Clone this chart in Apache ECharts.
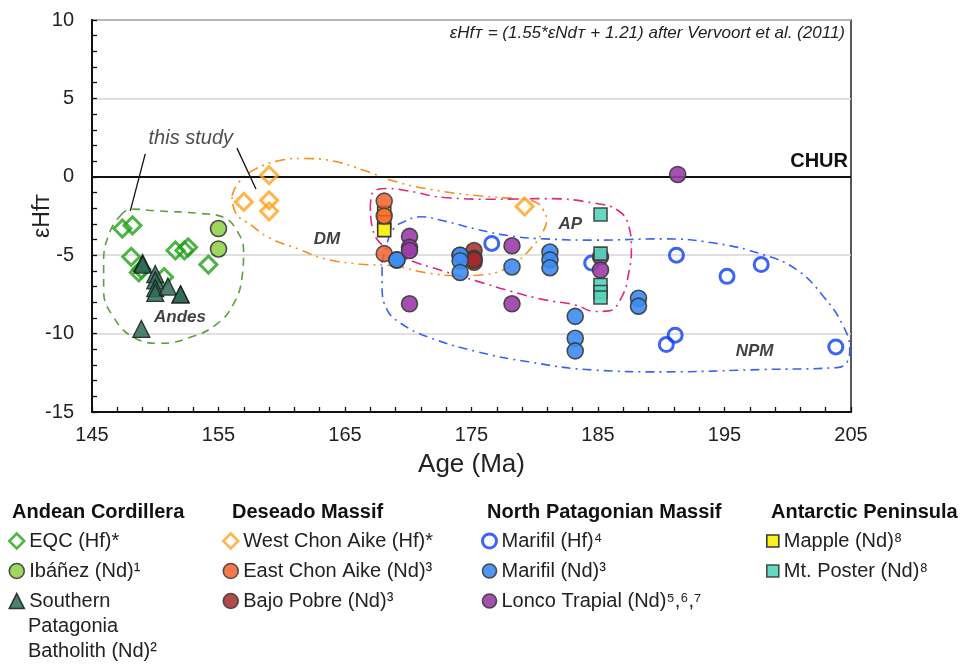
<!DOCTYPE html>
<html><head><meta charset="utf-8">
<script src="https://cdn.jsdelivr.net/npm/echarts@6/dist/echarts.min.js"></script>
<style>html,body{margin:0;padding:0;background:#fff}#c{width:966px;height:665px}</style>
</head><body><div id="c"></div>
<script>
const FONT = '"Liberation Sans", Arial, sans-serif';
// axes
const xMin = 145, xMax = 205, xStep = 10;
const yMin = -15, yMax = 10, yStep = 5;

// data [age Ma, eHf(t)]
const eqcHf = [[147.4,-3.3],[148.2,-3.1],[148.1,-5.1],[148.7,-6.1],[148.9,-5.9],[150.7,-6.4],[151.6,-4.7],[152.3,-4.7],[152.6,-4.5],[154.2,-5.6]];
const ibanezNd = [[155.0,-3.3],[155.0,-4.6]];
const spbNd = [[149.0,-5.5],[149.0,-5.6],[150.0,-6.2],[150.0,-6.6],[150.0,-7.1],[150.0,-7.4],[151.0,-7.0],[152.0,-7.5],[152.0,-7.5],[148.9,-9.7]];
const westChonAikeHf = [[159.0,0.1],[157.0,-1.6],[159.0,-1.5],[159.0,-2.2],[179.2,-1.9]];
const mappleNd = [[168.1,-2.3],[168.1,-2.9],[168.1,-3.4]];
const eastChonAikeNd = [[168.1,-1.55],[168.1,-2.5],[168.1,-4.9]];
const bajoPobreNd = [[175.2,-4.7],[175.2,-5.2],[175.2,-5.45],[175.2,-5.3]];
const marifilHf = [[176.6,-4.25],[184.5,-5.5],[191.2,-5.0],[195.2,-6.35],[197.9,-5.6],[191.1,-10.1],[190.4,-10.7],[203.8,-10.85]];
const marifilNd = [[169.1,-5.3],[169.1,-5.3],[174.1,-5.0],[174.1,-5.0],[174.1,-5.35],[174.1,-6.1],[178.2,-5.75],[181.2,-4.8],[181.2,-5.3],[181.2,-5.8],[183.2,-8.9],[183.2,-10.3],[183.2,-11.1],[188.2,-7.75],[188.2,-8.25]];
const loncoTrapialNd = [[170.1,-3.8],[170.1,-4.5],[170.1,-4.7],[170.1,-8.1],[178.2,-4.4],[178.2,-8.1],[185.2,-5.1],[185.2,-5.95],[191.3,0.15]];
const mtPosterNd = [[185.2,-2.4],[185.2,-4.9],[185.2,-6.9],[185.2,-7.35],[185.2,-7.7]];

// field outlines (data coordinates)
const andesShape = [[147.24,-2.48],[148.03,-2.06],[150.14,-2.17],[153.56,-2.34],[155.4,-2.59],[156.46,-3.44],[156.98,-4.71],[156.86,-6.41],[156.19,-8.11],[154.88,-9.38],[152.77,-10.24],[150.4,-10.62],[148.29,-10.24],[146.71,-8.96],[145.92,-7.26],[145.92,-5.35],[146.45,-3.44],[147.24,-2.48]];
const dmShape = [[156.07,-1.21],[156.59,-0.36],[157.91,0.49],[159.75,1.02],[161.6,1.17],[163.97,1.02],[166.6,0.38],[169.24,-0.36],[172.4,-0.89],[175.56,-1.21],[178.72,-1.42],[180.04,-1.6],[180.67,-2.1],[180.94,-2.75],[180.52,-3.68],[179.73,-4.52],[178.68,-5.37],[177.36,-5.99],[176.01,-6.24],[174.17,-6.31],[171.51,-6.13],[168.87,-5.69],[166.08,-5.56],[163.44,-5.24],[161.33,-4.61],[158.96,-3.87],[157.65,-3.12],[156.33,-2.27],[156.07,-1.21]];
const apShape = [[167.0,-2.08],[167.13,-1.1],[168.33,-0.75],[169.93,-0.89],[172.84,-1.32],[176.82,-1.43],[180.8,-1.39],[184.78,-1.69],[186.64,-2.18],[187.43,-3.14],[187.64,-4.64],[187.43,-6.13],[186.9,-7.63],[185.84,-8.55],[184.78,-8.59],[183.19,-8.17],[180.8,-7.85],[178.15,-7.31],[175.49,-6.67],[172.84,-6.03],[169.66,-5.17],[168.07,-4.43],[167.27,-3.57],[167.0,-2.08]];
const npmShape = [[167.93,-5.48],[168.26,-4.39],[168.84,-3.31],[169.66,-2.87],[170.98,-2.55],[172.84,-2.82],[175.49,-3.36],[178.15,-3.78],[180.8,-3.96],[184.78,-4.04],[190.08,-3.96],[194.06,-4.21],[198.04,-4.96],[200.69,-5.92],[202.82,-7.63],[204.41,-9.55],[204.9,-11.0],[204.7,-11.8],[203.88,-12.17],[198.04,-12.29],[190.08,-12.44],[184.78,-12.33],[179.48,-11.8],[175.49,-11.16],[171.51,-10.2],[169.4,-9.34],[168.33,-8.48],[167.93,-6.99],[167.93,-5.48]];
const leader1 = [[149.21,1.46],[148.03,-2.17]];
const leader2 = [[156.46,1.83],[157.96,-0.78]];
const fieldLabels = [{name:'Andes', value:[151.96,-8.96]},{name:'DM', value:[163.58,-3.97]},{name:'AP', value:[182.81,-3.04]},{name:'NPM', value:[197.38,-11.16]}];
const noteLabel = [{name:'this study', value:[152.81,2.42]}];

const filled = (c, op) => ({color: c, opacity: op || 0.9, borderColor: '#3a3a3a', borderWidth: 1.6});
const hollow = (c) => ({color: 'rgba(255,255,255,0)', borderColor: c, borderWidth: 3});
function sc(name, data, symbol, size, itemStyle) {
  return {type:'scatter', name, data, symbol, symbolSize:size, itemStyle, z:5};
}
function shape(data, color, dash) {
  return {type:'line', data, smooth:0.45, symbol:'none', silent:true, z:2,
    lineStyle:{color, width:1.6, type:dash}};
}

const series = [
  Object.assign(shape(andesShape, '#5aa03c', [8,6]), {markLine:{silent:true, symbol:'none', data:[{yAxis:0}],
    lineStyle:{color:'#111', width:2, type:'solid'},
    label:{show:true, formatter:'CHUR', position:'insideEndTop', distance:[3,5], fontFamily:FONT, fontSize:20, fontWeight:'bold', color:'#111'}}}),
  shape(dmShape, '#f39019', [10,5,2,5,2,5]),
  shape(apShape, '#e0267f', [10,5,2,5]),
  shape(npmShape, '#3a63f0', [9,5,2,5]),
  {type:'line', data:leader1, symbol:'none', silent:true, lineStyle:{color:'#111', width:1.3}, z:3},
  {type:'line', data:leader2, symbol:'none', silent:true, lineStyle:{color:'#111', width:1.3}, z:3},
  sc('EQC (Hf)*', eqcHf, 'diamond', 17, hollow('#23a017')),
  sc('Ibáñez (Nd)¹', ibanezNd, 'circle', 16, filled('#93d34c')),
  sc('Southern Patagonia Batholith (Nd)²', spbNd, 'triangle', 17, {color:'#2b6b55', opacity:0.85, borderColor:'#1a1a1a', borderWidth:1.3}),
  sc('West Chon Aike (Hf)*', westChonAikeHf, 'diamond', 17, hollow('#ffa31a')),
  sc('Mapple (Nd)⁸', mappleNd, 'rect', 13, filled('#f8f21a', 1)),
  sc('East Chon Aike (Nd)³', eastChonAikeNd, 'circle', 16, filled('#f4602e', 0.85)),
  sc('Bajo Pobre (Nd)³', bajoPobreNd, 'circle', 16, filled('#a32a2a', 0.85)),
  sc('Marifil (Hf)⁴', marifilHf, 'circle', 14, hollow('#0b3ef5')),
  sc('Marifil (Nd)³', marifilNd, 'circle', 16, filled('#3c8cf2', 0.9)),
  sc('Lonco Trapial (Nd)⁵,⁶,⁷', loncoTrapialNd, 'circle', 16, filled('#9b3ca8', 0.9)),
  sc('Mt. Poster (Nd)⁸', mtPosterNd, 'rect', 13, filled('#52d6b8', 0.9)),
  {type:'scatter', data:fieldLabels, symbolSize:1, itemStyle:{color:'rgba(0,0,0,0)'}, silent:true, z:6,
    label:{show:true, position:'inside', formatter:'{b}', fontFamily:FONT, fontSize:17, fontWeight:'bold', fontStyle:'italic', color:'#111'}},
  {type:'scatter', data:noteLabel, symbolSize:1, itemStyle:{color:'rgba(0,0,0,0)'}, silent:true, z:6,
    label:{show:true, position:'inside', formatter:'{b}', fontFamily:FONT, fontSize:20, fontStyle:'italic', color:'#222'}}
];

const hol = {borderWidth:2.5};
const fil = {borderWidth:1.6};
const legTxt = {fontFamily:FONT, fontSize:20, color:'#222', lineHeight:20};
const legBase = {orient:'vertical', top:531, padding:0, itemGap:10, selectedMode:false, textStyle:legTxt};
const legends = [
  Object.assign({}, legBase, {left:8, itemWidth:15, itemHeight:15,
    data:[{name:'EQC (Hf)*', itemStyle:hol},{name:'Ibáñez (Nd)¹', itemStyle:fil},{name:'Southern Patagonia Batholith (Nd)²', itemStyle:fil}],
    formatter: n => n === 'Southern Patagonia Batholith (Nd)²' ? 'Southern' : n}),
  Object.assign({}, legBase, {left:222, itemWidth:15, itemHeight:15,
    data:[{name:'West Chon Aike (Hf)*', itemStyle:hol},{name:'East Chon Aike (Nd)³', itemStyle:fil},{name:'Bajo Pobre (Nd)³', itemStyle:fil}]}),
  Object.assign({}, legBase, {left:481, itemWidth:14, itemHeight:14,
    data:[{name:'Marifil (Hf)⁴', itemStyle:{borderWidth:3}},{name:'Marifil (Nd)³', itemStyle:fil},{name:'Lonco Trapial (Nd)⁵,⁶,⁷', itemStyle:fil}]}),
  Object.assign({}, legBase, {left:766, itemWidth:12, itemHeight:12,
    data:[{name:'Mapple (Nd)⁸', itemStyle:fil},{name:'Mt. Poster (Nd)⁸', itemStyle:fil}]})
];
const hdr = {fontFamily:FONT, fontSize:20, fontWeight:'bold', color:'#111', lineHeight:20};
const titles = [
  {text:'εHfᴛ = (1.55*εNdᴛ + 1.21) after Vervoort et al. (2011)', right:121, top:25, padding:0,
    textStyle:{fontFamily:FONT, fontSize:17, fontStyle:'italic', fontWeight:'normal', color:'#222'}},
  {text:'Andean Cordillera', left:12, top:502, padding:0, textStyle:hdr},
  {text:'Deseado Massif', left:232, top:502, padding:0, textStyle:hdr},
  {text:'North Patagonian Massif', left:487, top:502, padding:0, textStyle:hdr},
  {text:'Antarctic Peninsula', left:771, top:502, padding:0, textStyle:hdr},
  {text:'Patagonia\nBatholith (Nd)²', left:28, top:614, padding:0,
    textStyle:{fontFamily:FONT, fontSize:20, fontWeight:'normal', color:'#222', lineHeight:25}}
];

const chart = echarts.init(document.getElementById('c'), null, {renderer:'canvas'});
chart.setOption({
  animation:false,
  backgroundColor:'#fff',
  title: titles,
  legend: legends,
  grid:{left:92, right:115, top:20, bottom:253, show:true, borderColor:'#222', borderWidth:1.5, backgroundColor:'rgba(0,0,0,0)'},
  xAxis:{type:'value', min:xMin, max:xMax, interval:xStep,
    axisLine:{onZero:false, lineStyle:{color:'#111', width:2}},
    axisTick:{inside:true, length:5, lineStyle:{color:'#111', width:1.3}},
    minorTick:{show:true, splitNumber:5, length:5, lineStyle:{color:'#111', width:1.3}},
    axisLabel:{fontFamily:FONT, fontSize:20, color:'#222', margin:13},
    splitLine:{show:false},
    name:'Age (Ma)', nameLocation:'middle', nameGap:40, nameMoveOverlap:false,
    nameTextStyle:{fontFamily:FONT, fontSize:26, color:'#222'}},
  yAxis:{type:'value', min:yMin, max:yMax, interval:yStep,
    axisLine:{onZero:false, lineStyle:{color:'#111', width:2}},
    axisTick:{inside:true, length:5, lineStyle:{color:'#111', width:1.3}},
    minorTick:{show:true, splitNumber:5, length:5, lineStyle:{color:'#111', width:1.3}},
    axisLabel:{fontFamily:FONT, fontSize:20, color:'#222', margin:18},
    splitLine:{show:true, lineStyle:{color:'#d6d6d6', width:1.5}},
    name:'εHfᴛ', nameLocation:'middle', nameGap:38, nameRotate:90, nameMoveOverlap:false,
    nameTextStyle:{fontFamily:FONT, fontSize:23, color:'#222'}},
  series
});
</script></body></html>
